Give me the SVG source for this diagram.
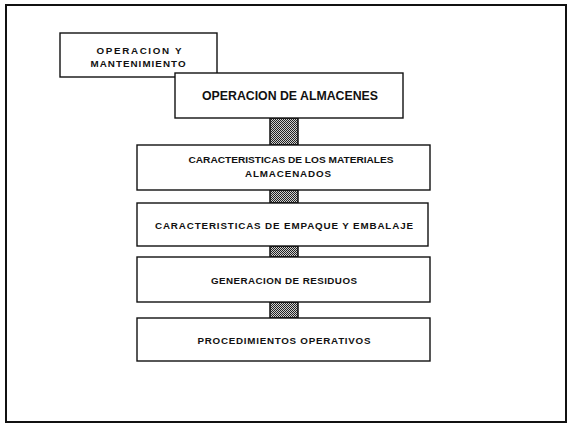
<svg xmlns="http://www.w3.org/2000/svg" width="568" height="425" viewBox="0 0 568 425">
<style>
.box{fill:#fff;stroke:#111;stroke-width:1.4}
.t{font-family:"Liberation Sans",Arial,sans-serif;font-weight:bold;fill:#111;text-anchor:middle;dominant-baseline:central}
.s{font-size:9.8px}
.big{font-size:12.5px}
.bar{fill:url(#dots);stroke:#111;stroke-width:1.5}
</style>
<defs>
<pattern id="dots" width="2" height="2" patternUnits="userSpaceOnUse">
<rect width="2" height="2" fill="#cfcfcf"/>
<rect width="1" height="1" fill="#222"/>
<rect x="1" y="1" width="1" height="1" fill="#222"/>
</pattern>
</defs>
<rect width="568" height="425" fill="#fff"/>
<rect x="6" y="5" width="560" height="417" fill="none" stroke="#111" stroke-width="2"/>
<g id="connectors">
<rect class="bar" x="270" y="118" width="28" height="27"/>
<rect class="bar" x="270" y="190" width="28" height="13"/>
<rect class="bar" x="270" y="246" width="28" height="11"/>
<rect class="bar" x="270" y="302" width="28" height="16"/>
</g>
<g id="n1">
<rect class="box" x="60" y="33" width="157" height="44"/>
<text class="t s" x="139" y="50" textLength="85" lengthAdjust="spacing">OPERACION Y</text>
<text class="t s" x="138" y="63" textLength="95" lengthAdjust="spacing">MANTENIMIENTO</text>
</g>
<g id="n2">
<rect class="box" x="175" y="73" width="228" height="45"/>
<text class="t big" x="290" y="96" textLength="176" lengthAdjust="spacingAndGlyphs">OPERACION DE ALMACENES</text>
</g>
<g id="n3">
<rect class="box" x="137" y="145" width="293" height="45"/>
<text class="t s" x="291" y="159" textLength="205" lengthAdjust="spacingAndGlyphs">CARACTERISTICAS DE LOS MATERIALES</text>
<text class="t s" x="288" y="173" textLength="86" lengthAdjust="spacing">ALMACENADOS</text>
</g>
<g id="n4">
<rect class="box" x="137" y="203" width="291" height="43"/>
<text class="t s" x="284" y="225" textLength="258" lengthAdjust="spacing">CARACTERISTICAS DE EMPAQUE Y EMBALAJE</text>
</g>
<g id="n5">
<rect class="box" x="137" y="257" width="293" height="45"/>
<text class="t s" x="284" y="280" textLength="146" lengthAdjust="spacing">GENERACION DE RESIDUOS</text>
</g>
<g id="n6">
<rect class="box" x="137" y="318" width="293" height="43"/>
<text class="t s" x="284" y="340" textLength="173" lengthAdjust="spacing">PROCEDIMIENTOS OPERATIVOS</text>
</g>
</svg>
